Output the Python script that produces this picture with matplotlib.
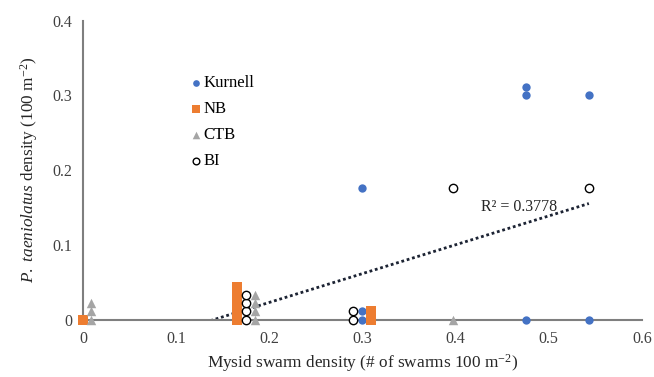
import numpy as np
import matplotlib
matplotlib.use("Agg")
import matplotlib.pyplot as plt

plt.rcParams['font.family'] = ['Liberation Serif', 'DejaVu Serif']
plt.rcParams['mathtext.fontset'] = 'custom'
plt.rcParams['mathtext.rm'] = 'Liberation Serif'
plt.rcParams['mathtext.it'] = 'Liberation Serif:italic'

# Values as displayed (zero-density points are stacked slightly upward for visibility)
kurnell_x = [0.300, 0.300, 0.300, 0.476, 0.476, 0.476, 0.543, 0.543]
kurnell_y = [0.176, 0.011, 0.0, 0.311, 0.301, 0.0, 0.301, 0.0]

nb_x = [0.0, 0.165, 0.165, 0.165, 0.165, 0.165, 0.309, 0.309]
nb_y = [0.0, 0.0, 0.011, 0.022, 0.033, 0.044, 0.0, 0.011]

ctb_x = [0.0086, 0.0086, 0.0086, 0.185, 0.185, 0.185, 0.185, 0.397]
ctb_y = [0.0, 0.011, 0.022, 0.0, 0.011, 0.022, 0.033, 0.0]

bi_x = [0.175, 0.175, 0.175, 0.175, 0.290, 0.290, 0.397, 0.543]
bi_y = [0.0, 0.011, 0.022, 0.033, 0.0, 0.011, 0.176, 0.176]

stack_offset_limit = 0.05  # values below this are display offsets of zero densities
r2_label = "R² = 0.3778"

fig = plt.figure(figsize=(6.54, 3.77), dpi=100)
ax = fig.add_axes([0.1269, 0.1525, 0.8547, 0.7931])

ax.scatter(kurnell_x, kurnell_y, s=36, marker='o', color='#4472C4', label='Kurnell', zorder=3, clip_on=False, linewidths=0)
ax.scatter(nb_x, nb_y, s=42, marker='s', color='#ED7D31', label='NB', zorder=3, clip_on=False, linewidths=0)
ax.scatter(ctb_x, ctb_y, s=46, marker='^', color='#A5A5A5', label='CTB', zorder=3, clip_on=False, linewidths=0)
ax.scatter(bi_x, bi_y, s=36, marker='o', facecolors='white', edgecolors='black', linewidths=1.0, label='BI', zorder=4, clip_on=False)

all_x = np.array(kurnell_x + nb_x + ctb_x + bi_x)
all_y = np.array(kurnell_y + nb_y + ctb_y + bi_y)
fit_y = np.where(all_y < stack_offset_limit, 0.0, all_y)
m, b = np.polyfit(all_x, fit_y, 1)
xs = np.linspace(all_x.min(), all_x.max(), 200)
ax.plot(xs, m * xs + b, linestyle=(0, (1, 1)), color='#1C2333', linewidth=2.0, zorder=2)

ax.text(0.468, 0.151, r2_label, fontsize=11.5, ha='center', va='center', color='#262626', zorder=5)

ax.set_xlim(0, 0.6)
ax.set_ylim(0, 0.4)
ax.set_xticks([0, 0.1, 0.2, 0.3, 0.4, 0.5, 0.6])
ax.set_xticklabels(['0', '0.1', '0.2', '0.3', '0.4', '0.5', '0.6'])
ax.set_yticks([0, 0.1, 0.2, 0.3, 0.4])
ax.set_yticklabels(['0', '0.1', '0.2', '0.3', '0.4'])
ax.tick_params(axis='x', length=0, labelsize=11.5, colors='#404040', pad=8)
ax.tick_params(axis='y', length=0, labelsize=11.5, colors='#404040', pad=7.5)
for s in ['top', 'right']:
    ax.spines[s].set_visible(False)
for s in ['left', 'bottom']:
    ax.spines[s].set_color('#7F7F7F')
    ax.spines[s].set_linewidth(1.5)

ax.set_xlabel(r'Mysid swarm density (# of swarms 100 m$^{-2}$)', fontsize=12.4, color='#262626', labelpad=4)
ax.set_ylabel(r'$P.\ taeniolatus$ density (100 m$^{-2}$)', fontsize=12.4, color='#262626', labelpad=9)

leg = ax.legend(loc='upper left', bbox_to_anchor=(0.184, 0.818), frameon=False, fontsize=12,
                handletextpad=-0.15, handlelength=1.2, labelspacing=0.6, markerscale=0.8, borderaxespad=0,
                borderpad=0)

fig.savefig('out.png', dpi=100)
